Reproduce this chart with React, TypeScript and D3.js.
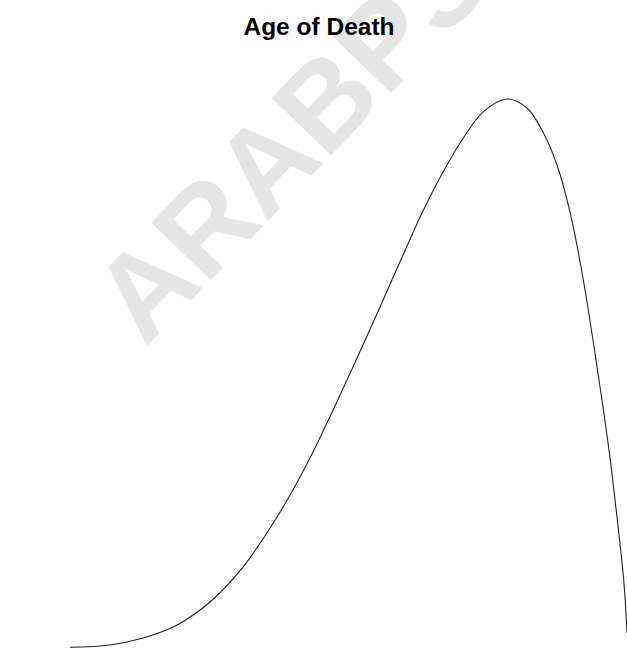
import React from "react";
import * as d3 from "d3";

const title = "Age of Death";
const watermark = "ARABPS";

// age (years) and density
const ages = [30, 35.03, 39.17, 43.45, 47.59, 51.74, 56.02, 58.91, 60.79, 64.81, 68.96, 71.85, 74.36, 76.88, 79.27, 81.9, 84.92, 87.43, 89.44, 91.2, 92.84, 94.47, 96.48, 97.74, 98.74, 99.62, 100];
const density = [0.00017, 0.00032, 0.00076, 0.00159, 0.00305, 0.00527, 0.00845, 0.01099, 0.01283, 0.01715, 0.02179, 0.02509, 0.02789, 0.03036, 0.0324, 0.03417, 0.035, 0.03443, 0.0329, 0.03081, 0.02782, 0.02363, 0.01715, 0.0127, 0.00845, 0.00426, 0.00108];

const W = 627;
const H = 648;

export default function App() {
  const x = d3.scaleLinear().domain([30, 100]).range([70, 627]);
  const y = d3.scaleLinear().domain([0, 0.035]).range([650, 99]);
  const pts: [number, number][] = ages.map((a, i) => [a, density[i]]);
  const line = d3
    .line<[number, number]>()
    .x((d) => x(d[0]))
    .y((d) => y(d[1]))
    .curve(d3.curveCatmullRom.alpha(0.5));
  return (
    <svg
      width={W}
      height={H}
      style={{ position: "absolute", left: 0, top: 0, background: "#fff" }}
    >
      <rect x={0} y={0} width={W} height={H} fill="#fff" />
      <text
        transform="translate(145,348) rotate(-46)"
        fontFamily="Liberation Sans, Arial, sans-serif"
        fontWeight="bold"
        fontSize={120}
        fill="#e5e5e5"
      >
        {watermark}
      </text>
      <text
        x={319}
        y={35}
        textAnchor="middle"
        fontFamily="Liberation Sans, Arial, sans-serif"
        fontWeight="bold"
        fontSize={24.5}
        fill="#000"
      >
        {title}
      </text>
      <path d={line(pts) || ""} fill="none" stroke="#222" strokeWidth={1.1} />
    </svg>
  );
}
